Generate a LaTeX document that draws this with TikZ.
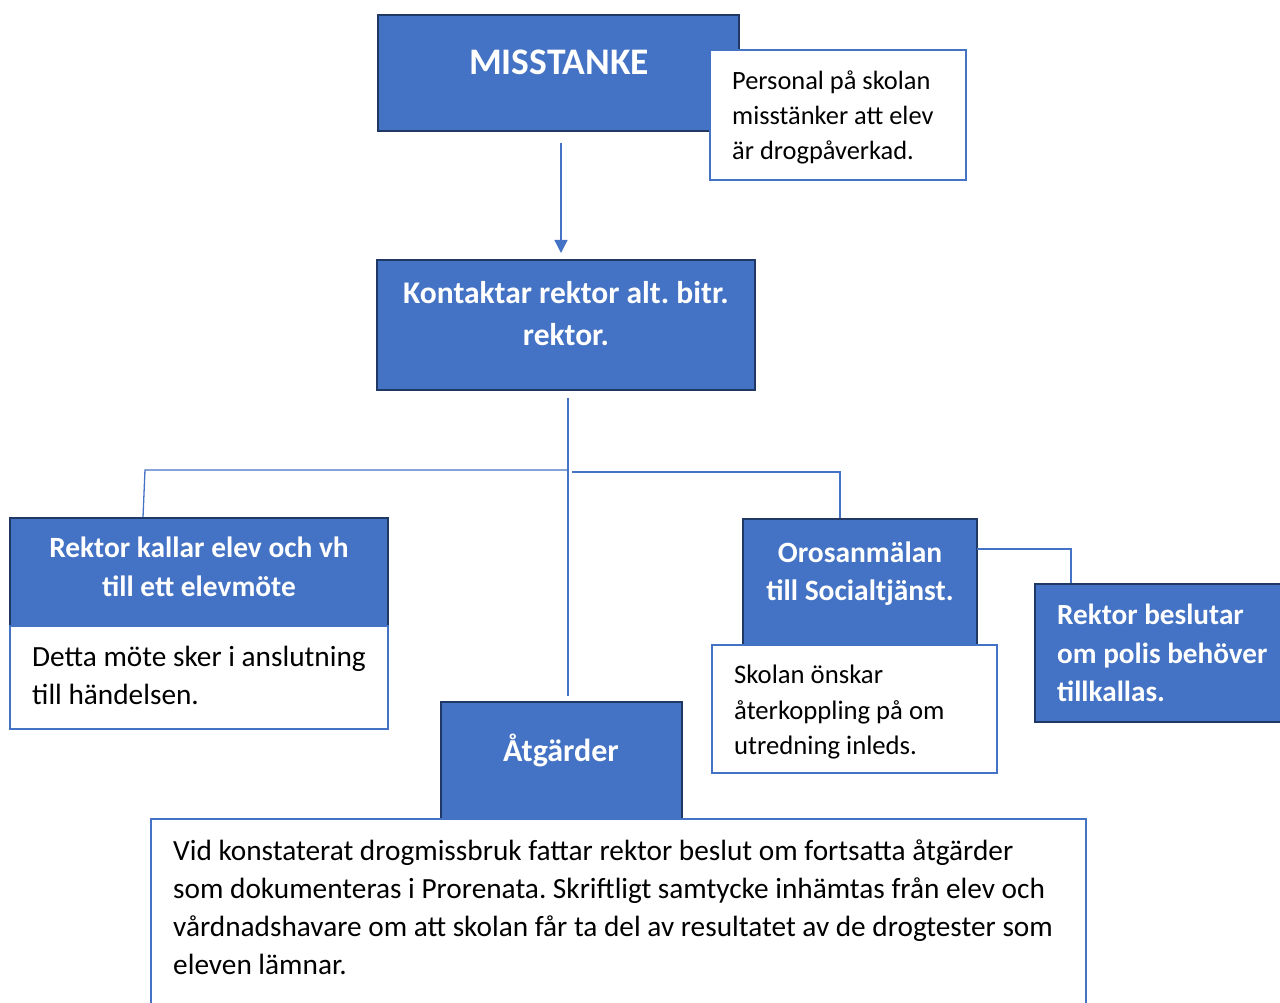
\documentclass[tikz,border=0pt]{standalone}
\usepackage{fontspec}
\setmainfont{Carlito}
\usetikzlibrary{arrows.meta}
\definecolor{boxblue}{HTML}{4472C4}
\definecolor{darkedge}{HTML}{203864}
\tikzset{
  bluebox/.style={draw=darkedge, line width=2.5pt, fill=boxblue, rectangle, inner sep=0pt},
  whitebox/.style={draw=boxblue, line width=2.2pt, fill=white, rectangle, inner sep=0pt},
  conn/.style={draw=boxblue, line width=1.3pt},
  headtxt/.style={text=white, align=center, inner sep=0pt},
  bodytxt/.style={text=black, align=left, inner sep=0pt, anchor=west},
}
\frenchspacing
\begin{document}
\begin{tikzpicture}[x=1pt,y=-1pt]
\useasboundingbox (0,0) rectangle (1280,1003);
% top
\node[bluebox, minimum width=361pt, minimum height=116pt] (M) at (558.5,73) {};
\node[headtxt, font=\bfseries\fontsize{37.5}{40}\selectfont] (Mt) at (559,62) {MISSTANKE};
\node[whitebox, minimum width=256pt, minimum height=130pt] (P) at (838,115) {};
\node[bodytxt, font=\fontsize{26.4}{35}\selectfont] (Pt) at (732,117) {Personal på skolan\\misstänker att elev\\är drogpåverkad.};
% second
\node[bluebox, minimum width=378pt, minimum height=130pt] (K) at (566,325) {};
\node[headtxt, font=\bfseries\fontsize{31.5}{42}\selectfont] (Kt) at (566,314) {Kontaktar rektor alt. bitr.\\rektor.};
\draw[conn, -{Triangle[length=13pt,width=13pt]}] (561,143) -- (561,253);
% tree connectors
\coordinate (j) at (568,470);
\draw[conn] (568,398) -- (568,696);
\draw[conn] (j) -- (145,470) -- (143,517);
\draw[conn] (572,472) -- (840,472) -- (840,519);
% left
\node[bluebox, minimum width=378pt, minimum height=108pt] (R) at (199,572) {};
\node[headtxt, font=\bfseries\fontsize{29.4}{39}\selectfont] (Rt) at (199,567) {Rektor kallar elev och vh\\till ett elevmöte};
\node[whitebox, minimum width=378pt, minimum height=103pt] (D) at (199,677.5) {};
\node[bodytxt, font=\fontsize{29.3}{38}\selectfont] (Dt) at (32,675) {Detta möte sker i anslutning\\till händelsen.};
% right
\node[bluebox, minimum width=234pt, minimum height=126pt] (O) at (860,582) {};
\node[headtxt, font=\bfseries\fontsize{29.5}{38}\selectfont] (Ot) at (860,574) {Orosanmälan\\till Socialtjänst.};
\node[whitebox, minimum width=285pt, minimum height=128pt] (S) at (854.5,709) {};
\node[bodytxt, font=\fontsize{26.7}{35.5}\selectfont] (St) at (734,712.5) {Skolan önskar\\återkoppling på om\\utredning inleds.};
\node[bluebox, minimum width=255pt, minimum height=138pt] (B) at (1162.5,653) {};
\node[bodytxt, text=white, font=\bfseries\fontsize{29.2}{38.5}\selectfont] (Bt) at (1057,653) {Rektor beslutar\\om polis behöver\\tillkallas.};
\draw[conn] (977,549) -- (1071,549) -- (B.north -| 1071,0);
% bottom
\node[bluebox, minimum width=241pt, minimum height=118pt] (A) at (561.5,761) {};
\node[headtxt, font=\bfseries\fontsize{32}{40}\selectfont] (At) at (561,750) {Åtgärder};
\node[whitebox, minimum width=935pt, minimum height=196pt] (V) at (618.5,917) {};
\node[bodytxt, font=\fontsize{29.3}{38}\selectfont] (Vt) at (173,907) {Vid konstaterat drogmissbruk fattar rektor beslut om fortsatta åtgärder\\som dokumenteras i Prorenata. Skriftligt samtycke inhämtas från elev och\\vårdnadshavare om att skolan får ta del av resultatet av de drogtester som\\eleven lämnar.};
\end{tikzpicture}
\end{document}
